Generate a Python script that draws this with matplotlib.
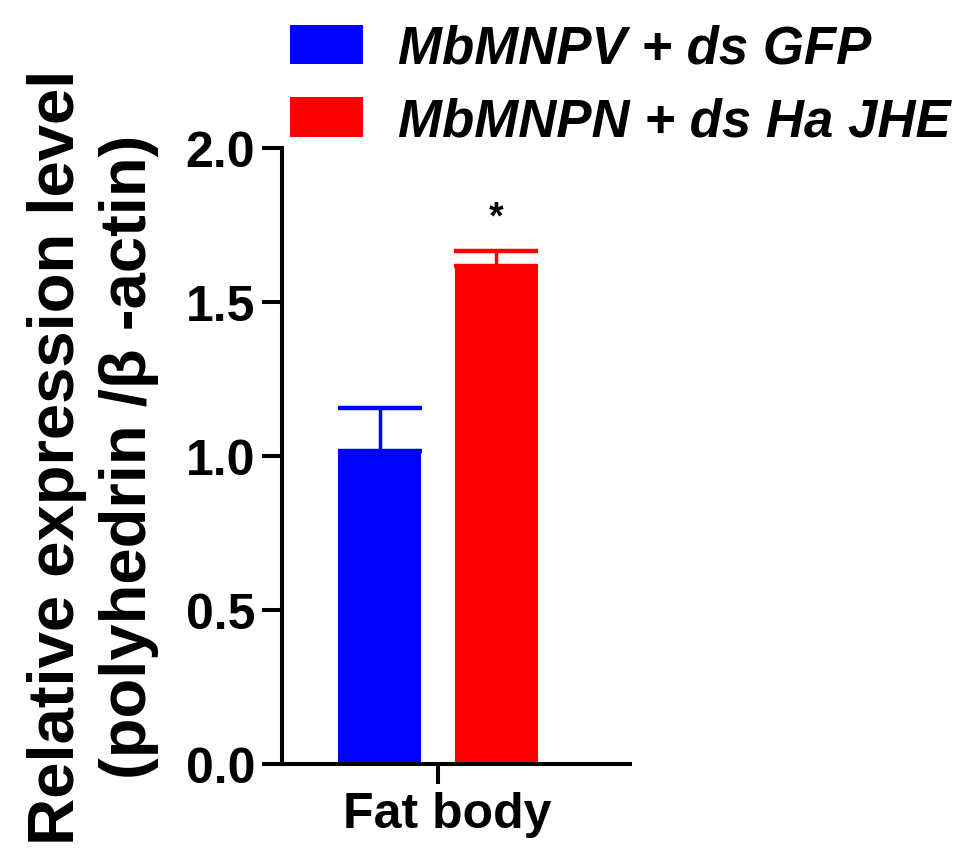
import matplotlib
matplotlib.use("Agg")
import matplotlib.pyplot as plt
from matplotlib.patches import Patch
import matplotlib.transforms as mtransforms

categories = ["Fat body"]
series = ["MbMNPV + ds GFP", "MbMNPN + ds Ha JHE"]
means = [1.015, 1.617]
errs = [0.142, 0.05]
colors = ["#0000ff", "#ff0000"]
yticks = [0.0, 0.5, 1.0, 1.5, 2.0]

plt.rcParams['font.family'] = ['Liberation Sans', 'DejaVu Sans']

fig = plt.figure(figsize=(9.57, 8.62), dpi=100)
ax = fig.add_axes([282/957, 1-765/862, (630-282)/957, (765-149)/862])

offsets = [-0.7, 0.7]
for i, (m, e, c) in enumerate(zip(means, errs, colors)):
    x = 0 + offsets[i]
    ax.bar(x, m, width=1.0, color=c, edgecolor='none', zorder=2)
    ax.errorbar(x, m, yerr=[[0], [e]], fmt='none', ecolor=c, elinewidth=2.5,
                capsize=30, capthick=3.2, zorder=1)

ax.text(offsets[1], means[1] + errs[1] + 0.05, "*", ha='center', va='bottom',
        fontsize=27, fontweight='bold')

ax.set_xlim(-156/83, 192/83)
ax.set_ylim(0, 2.0)
ax.set_yticks(yticks)
ax.set_yticklabels([f"{v:.1f}" for v in yticks])
ax.set_xticks([0])
ax.set_xticklabels(categories)

for s in ['top', 'right']:
    ax.spines[s].set_visible(False)
for s in ['left', 'bottom']:
    ax.spines[s].set_linewidth(2.9)
ax.spines['left'].set_bounds(0, 2.0)
ax.tick_params(axis='both', width=2.9, length=14.4, labelsize=36, pad=5)
for lbl in ax.get_xticklabels() + ax.get_yticklabels():
    lbl.set_fontweight('bold')
shift = mtransforms.ScaledTranslation(9/100, 0, fig.dpi_scale_trans)
for lbl in ax.get_xticklabels():
    lbl.set_transform(lbl.get_transform() + shift)

ax.set_ylabel("Relative expression level\n(polyhedrin /β -actin)", fontsize=47,
              fontweight='bold', labelpad=19, linespacing=1.25)

handles = [Patch(facecolor=c, edgecolor='none') for c in colors]
fig.legend(handles, series, loc='upper left', bbox_to_anchor=(290/957, 1-25/862),
           frameon=False, prop={'size': 38, 'weight': 'bold', 'style': 'italic'},
           handlelength=1.38, handleheight=0.78, handletextpad=0.66,
           borderpad=0, borderaxespad=0, labelspacing=0.42)

fig.savefig("out.png", dpi=100)
